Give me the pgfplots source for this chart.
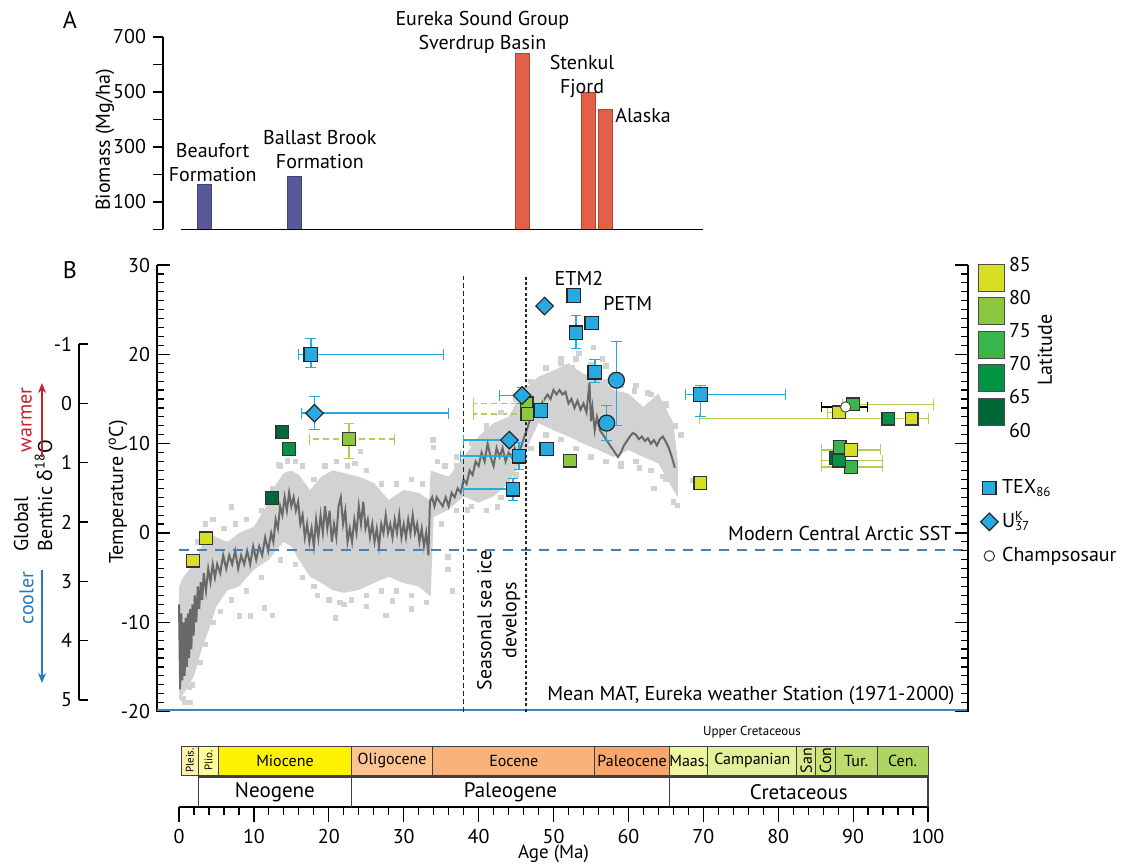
\documentclass[border=0pt]{standalone}
\usepackage{pgfplots}
\pgfplotsset{compat=1.18}
\usepackage{fontspec}
\setmainfont{PT Sans}
\newfontfamily\grk{Noto Sans}
\usetikzlibrary{arrows.meta}
\definecolor{texblue}{RGB}{39,170,225}
\definecolor{latA}{RGB}{215,223,35}
\definecolor{latB}{RGB}{141,198,63}
\definecolor{latC}{RGB}{57,181,74}
\definecolor{latD}{RGB}{0,148,68}
\definecolor{latE}{RGB}{0,104,56}
\definecolor{barblue}{RGB}{88,89,155}
\definecolor{barred}{RGB}{226,95,72}
\definecolor{scat}{RGB}{210,210,210}
\definecolor{curvegray}{RGB}{105,105,105}
\definecolor{sstblue}{RGB}{70,130,180}
\definecolor{errgreen}{RGB}{175,208,85}
\definecolor{warmred}{RGB}{200,30,45}
\definecolor{coolblue}{RGB}{40,120,190}
\definecolor{cPleis}{HTML}{FFF2AE}
\definecolor{cPlio}{HTML}{FFFF99}
\definecolor{cMio}{HTML}{FFF200}
\definecolor{cOlig}{HTML}{FDC48F}
\definecolor{cEoc}{HTML}{FBB27A}
\definecolor{cPaleoc}{HTML}{F9A66C}
\definecolor{cMaas}{HTML}{F0F6A0}
\definecolor{cCamp}{HTML}{E3F09A}
\definecolor{cSan}{HTML}{D8EA8A}
\definecolor{cCon}{HTML}{CBE47A}
\definecolor{cTur}{HTML}{BDDC6C}
\definecolor{cCen}{HTML}{AED461}
\newcommand{\fsa}{\fontsize{10}{12}\selectfont}
\newcommand{\fsb}{\fontsize{8}{9.5}\selectfont}
\newcommand{\scr}{\fontsize{6.5}{7}\selectfont}
\pgfplotsset{
  common/.style={scale only axis, anchor=south west, clip=false,
    /pgf/number format/assume math mode=true,
    tick label style={font=\fsa},
    tick style={black, line width=0.6pt},
    axis line style={black, line width=0.7pt}},
  latsq/.style={only marks, mark=square*, mark size=3.2pt, mark options={fill=#1, draw=black!80, line width=0.6pt}},
}
\begin{document}
\begin{tikzpicture}
\useasboundingbox (0,0) rectangle (564pt,431.5pt);

% ---------------- Panel A ----------------
\begin{axis}[common, at={(81.5pt,316.75pt)}, width=270.2pt, height=96.25pt,
  xmin=-2.14, xmax=70, ymin=0, ymax=700,
  axis x line=none, axis y line*=left,
  ytick={100,300,500,700}, minor ytick={0,200,400,600},
  tick align=outside, major tick length=5pt, minor tick length=5pt]
\addplot[ybar, bar width=7pt, bar shift=0pt, fill=barblue, draw=barblue!75!black, line width=0.4pt] coordinates {(3.35,164) (15.35,193)};
\addplot[ybar, bar width=7pt, bar shift=0pt, fill=barred, draw=barred!75!black, line width=0.4pt] coordinates {(45.8,639) (54.6,497) (56.9,436)};
\addplot[black, line width=0.8pt] coordinates {(0.3,0) (70,0)};
\node[align=center, font=\fsa, inner sep=0pt] at (axis cs:4.5,245) {Beaufort\\Formation};
\node[align=center, font=\fsa, inner sep=0pt] at (axis cs:18.8,290) {Ballast Brook\\Formation};
\node[align=center, font=\fsa, inner sep=0pt] at (axis cs:40.5,715) {Eureka Sound Group\\Sverdrup Basin};
\node[align=center, font=\fsa, inner sep=0pt] at (axis cs:53.8,555) {Stenkul\\Fjord};
\node[anchor=west, font=\fsa, inner sep=0pt] at (axis cs:58.2,413) {Alaska};
\end{axis}

% ---------------- delta18O axis ----------------
\begin{axis}[common, at={(39.5pt,81.5pt)}, width=20pt, height=178pt,
  xmin=0, xmax=1, ymin=-1, ymax=5, y dir=reverse,
  axis x line=none, axis y line*=left,
  ytick={-1,0,...,5}, tick align=inside, major tick length=4.5pt]
\addplot[draw=none] coordinates {(0,0)};
\end{axis}

% ---------------- Panel B ----------------
\begin{axis}[common, at={(78.5pt,75.7pt)}, width=405.5pt, height=223.3pt,
  xmin=-2.94, xmax=105.34, ymin=-20, ymax=30,
  axis x line=none, axis y line*=left,
  ytick={-20,-10,...,30}, minor y tick num=9,
  tick align=inside, major tick length=6.5pt, minor tick length=3.5pt,
  legend cell align=left,
  legend style={at={(rel axis cs:1.015,0.53)}, anchor=north west, draw=none, fill=none,
    font=\fsa, row sep=4.5pt, inner sep=0pt}]
% light grey scatter band
\addplot[fill=scat, draw=none, forget plot] coordinates {
(0,-6) (0.5,-5) (1,-4.5) (2,-3.5) (3,-1.5) (4,0) (5,-0.5) (6.5,-1) (8,0) (10,0.7)
(12,3.5) (13,5.5) (14,6.7) (15,7) (16,6.5) (17.5,4.8) (19,6.3) (20.5,7) (22,6.7)
(24,6.3) (26,5.6) (28,3.7) (30,4.8) (32,4.5) (33.4,3.7) (33.6,7) (36,6.3) (38,8.5)
(40,10.8) (42,12.3) (44,13) (46,16) (48,17.5) (50,18.2) (52,19) (54,17.8) (56,17.5)
(58,16) (60,15.6) (62,14.1) (64,15.6) (66,12.3) (66.6,8)
(66.6,4) (66,4.8) (64,7.8) (62,8.5) (60,9.3) (58,8.5) (56,9.3) (54,10) (52,10.8)
(50,11.5) (48,12.3) (47,10.5) (46,8.5) (44,5.6) (42,4.1) (40,3.4) (38,4.1) (36,2.6)
(34,1.8) (33.6,-7.1) (32,-6) (30,-5.6) (28,-4.9) (26,-5.6) (24,-6.4) (22,-6.7)
(20.5,-6.4) (19,-5.6) (17.5,-4.9) (16,-3) (15,-1.5) (14,-1) (13,-1.9) (12,-3)
(10,-4.1) (8,-6) (6.5,-6.4) (5,-8.2) (4,-10.8) (3,-13.1) (2,-16) (1,-17.5) (0,-18.7)};
\addplot[only marks, mark=square*, mark size=1.1pt, color=scat, forget plot] coordinates {
(1.5,-19) (0.5,-18.5) (1.4,-17.3) (8.1,-9.3) (9.5,-9.3) (12.5,-9.2) (20.9,-9.5)
(27.6,-9.2) (11.4,-8.4) (7,2.9) (24.2,9.1) (14.5,8.1) (13.3,7.6) (33.9,10.4)
(34.0,9.6) (35.9,-2.7) (35.9,-4.1) (36.5,-6.5) (18.5,-7) (22,-8) (25,-8.2) (31,-8.5)
(28.5,-7.6) (66.5,3.1) (63.4,5.0) (68.6,5.9) (66.2,5.9) (60.8,15.9) (49.8,17.1)
(55.3,20.8) (53.4,20.1) (51,19.5) (57,18.7) (62.6,15.7) (65,14.3) (67,11) (61.5,7.3)
(59,7.8) (64.5,6.3) (47.5,16.5) (45,13.8) (43.5,12) (41,11.5) (39.5,9.8) (37,7.5)
(38.5,2.6) (42.5,2.9) (44.8,4.5) (56.5,19.5) (52.5,18.5)
(2.5,-1) (3.5,1) (4.5,1.5) (6,0.5) (7.5,1) (9,1.5) (11,2.5) (12.5,5) (13.5,7.5)
(14.5,8) (15.5,8) (16.5,7.5) (18,6) (19.5,7.5) (21,8) (22.5,7.5) (23.5,7.8) (25,7)
(27,5.5) (29,5.5) (31,6) (32.5,5.5) (34.5,8) (35.5,7.5) (37,8.5) (39,10) (41,12)
(43,13.5) (45,15) (47,17) (49,18.5) (51,19) (53,19.5) (55,18.8) (57,17) (59,16.5)
(61,16.5) (63,15.5) (65,14.5) (66.3,12)
(0.8,-19) (1.8,-17) (2.8,-14.5) (3.5,-12.5) (4.5,-10) (5.5,-8.8) (7,-7.5) (9,-6.5)
(11,-5) (13.5,-3) (15.5,-3.5) (16.5,-5) (18,-6) (20,-7.5) (21.5,-7.8) (23,-7.5)
(25,-7) (27,-6.5) (29,-6.5) (31,-7) (33,-7.8) (35,1) (37,2.5) (39,3) (41,2.5)
(43,4) (45,6.5) (47,9.5) (49,11) (51,10.5) (53,9.5) (55,8.5) (57,8) (59,7.5) (61,8)
(63,7) (65,6) (66,3.5)};
% dark running curve
\addplot[curvegray, line width=1pt, forget plot] coordinates {
(0.0,-8) (0.15,-17.5) (0.3,-9) (0.45,-16.5) (0.6,-10) (0.75,-16) (0.9,-9.5) (1.05,-15)
(1.2,-9) (1.35,-14) (1.5,-8.5) (1.65,-13) (1.8,-8) (1.95,-11.5) (2.1,-7) (2.3,-10)
(2.5,-6) (2.7,-8.5) (2.9,-5.5) (3.1,-7.5) (3.3,-4.5) (3.6,-6.5) (3.9,-4) (4.2,-5.5)
(4.5,-3.5) (4.8,-5) (5.1,-3.5) (5.5,-4.5) (5.9,-2.5) (6.3,-4) (6.7,-2.5) (7.1,-3.5)
(7.5,-2) (7.9,-4) (8.3,-2.5) (8.7,-3.5) (9.1,-2) (9.5,-3.5) (9.9,-1.5) (10.3,-3)
(10.7,-1.5) (11.1,-2.5) (11.5,-0.5) (11.9,-2) (12.3,0) (12.6,-1) (12.9,1.5) (13.2,0.5)
(13.5,3) (13.8,2) (14.1,4) (14.4,2.5) (14.7,4.5) (15.0,3) (15.3,4) (15.6,2.5) (15.9,3.5)
(16.2,1) (16.5,2) (16.8,-0.5) (17.1,1) (17.4,-1) (17.7,0.5) (18.0,-1.5) (18.3,1.5)
(18.6,-0.5) (18.9,2) (19.2,0) (19.5,3) (19.8,0.5) (20.1,2.5) (20.4,-1) (20.7,1)
(21.0,-0.5) (21.3,3) (21.6,4) (21.9,1) (22.2,2.5) (22.5,-1) (22.8,0.5) (23.1,-1)
(23.4,1.5) (23.7,0) (24.0,3) (24.3,1) (24.6,3.5) (24.9,0.5) (25.2,1.5) (25.5,-0.5)
(25.8,1) (26.1,-1) (26.4,0.5) (26.7,-1.5) (27.0,1) (27.3,0) (27.6,2) (27.9,0) (28.2,1)
(28.5,-0.5) (28.8,1.5) (29.1,0) (29.4,2) (29.7,-0.5) (30.0,1) (30.3,-0.5) (30.6,1.5)
(30.9,0) (31.2,2) (31.5,0) (31.8,1) (32.1,-1) (32.4,0.5) (32.7,-1.5) (33.0,0)
(33.3,-2.5) (33.5,3.5) (33.8,4) (34.1,3) (34.4,4) (34.8,3.5) (35.2,3) (35.6,4) (36.0,3)
(36.4,4.5) (36.8,4) (37.2,5) (37.6,4.5) (38.0,6) (38.4,5.5) (38.8,7) (39.2,6.5) (39.6,8)
(40.0,7.5) (40.4,9) (40.8,8) (41.2,10) (41.6,8.5) (42.0,7.5) (42.4,9.5) (42.8,8.5)
(43.2,9.5) (43.6,8) (44.0,9) (44.4,8.5) (44.8,9.5) (45.2,8.5) (45.6,9.5) (46.0,10.5)
(46.4,11.5) (46.8,12.5) (47.2,13) (47.6,13.5) (48.0,14) (48.4,14.5) (48.8,15) (49.2,15.5)
(49.6,15) (50.0,16) (50.4,15.5) (50.8,16) (51.2,15.5) (51.6,15.8) (52.0,14.5) (52.4,15)
(52.8,14) (53.2,14.8) (53.6,13.8) (54.0,14.5) (54.4,13.5) (54.8,16.8) (55.0,12.5)
(55.2,14) (55.5,11.5) (55.8,13) (56.2,11.5) (56.6,11) (57.0,10.5) (57.4,10) (57.8,9.5)
(58.2,9) (58.6,8.5) (59.0,9) (59.4,9.8) (59.8,10.3) (60.2,10.8) (60.6,11.2) (61.0,11)
(61.4,10.5) (61.8,10.8) (62.2,10.3) (62.6,10.6) (63.0,10) (63.4,10.4) (63.8,9.8)
(64.2,10.5) (64.6,10.8) (65.0,10.2) (65.4,9.5) (65.8,8.5) (66.2,7.3)};
% reference lines
\addplot[sstblue, dash pattern=on 5pt off 4pt, line width=0.7pt, forget plot] coordinates {(0,-1.9) (105.34,-1.9)};
\addplot[sstblue, line width=0.7pt, forget plot] coordinates {(-2.94,-19.8) (105.34,-19.8)};
\addplot[black!85, dash pattern=on 2.5pt off 1.5pt, line width=0.8pt, forget plot] coordinates {(38,-20) (38,28.8)};
\addplot[black!85, dash pattern=on 1.5pt off 1.2pt, line width=1pt, forget plot] coordinates {(46.3,-20) (46.3,28.8)};
% right-hand spine with inward ticks
\addplot[black, line width=0.7pt, forget plot] coordinates {(105.34,-20) (105.34,30)};
\addplot[only marks, mark=-, mark size=3.25pt, mark options={black, line width=0.6pt}, forget plot] coordinates {
(104.47,-20) (104.47,-10) (104.47,0) (104.47,10) (104.47,20) (104.47,30)};
\addplot[only marks, mark=-, mark size=1.75pt, mark options={black, line width=0.6pt}, forget plot] coordinates {
(104.87,-19) (104.87,-18) (104.87,-17) (104.87,-16) (104.87,-15) (104.87,-14) (104.87,-13) (104.87,-12) (104.87,-11)
(104.87,-9) (104.87,-8) (104.87,-7) (104.87,-6) (104.87,-5) (104.87,-4) (104.87,-3) (104.87,-2) (104.87,-1)
(104.87,1) (104.87,2) (104.87,3) (104.87,4) (104.87,5) (104.87,6) (104.87,7) (104.87,8) (104.87,9)
(104.87,11) (104.87,12) (104.87,13) (104.87,14) (104.87,15) (104.87,16) (104.87,17) (104.87,18) (104.87,19)
(104.87,21) (104.87,22) (104.87,23) (104.87,24) (104.87,25) (104.87,26) (104.87,27) (104.87,28) (104.87,29)};
% latitude error bars
\addplot[only marks, mark=none, forget plot, error bars/.cd, x dir=both, x explicit,
  error bar style={draw=errgreen, line width=0.7pt},
  error mark options={rotate=90, mark size=2.7pt, draw=errgreen}] coordinates {
(97.8,12.8) += (2.2,0) -= (28.3,0)
(88.1,13.5) += (0,0) -= (1.6,0)
(89.7,9.3) += (3.9,0) -= (3.9,0)
(90.0,14.4) += (10.7,0) -= (1.4,0)
(89.7,7.4) += (4.2,0) -= (3.9,0)
(88.1,8.1) += (5.8,0) -= (2.3,0)};
\addplot[only marks, mark=none, forget plot, error bars/.cd, x dir=both, x explicit,
  error bar style={draw=errgreen, line width=0.7pt, dash pattern=on 3pt off 2pt},
  error mark options={rotate=90, mark size=2.7pt, draw=errgreen, solid}] coordinates {
(22.7,10.5) += (6.0,0) -= (5.3,0)
(46.4,14.5) += (2.2,0) -= (7.1,0)
(46.5,13.3) += (2.1,0) -= (7.2,0)};
\addplot[only marks, mark=none, forget plot, error bars/.cd, y dir=both, y explicit,
  error bar style={draw=errgreen, line width=0.7pt},
  error mark options={rotate=90, mark size=2.7pt, draw=errgreen}] coordinates {
(22.7,10.5) += (0,1.8) -= (0,2.2)};
% blue error bars
\addplot[only marks, mark=none, forget plot, error bars/.cd, x dir=both, x explicit, y dir=both, y explicit,
  error bar style={draw=texblue, line width=0.8pt},
  error mark options={rotate=90, mark size=2.7pt, draw=texblue}] coordinates {
(17.6,20.0) += (17.7,1.8) -= (1.6,1.5)
(44.6,4.9) += (0,1.2) -= (6.6,1.2)
(69.6,15.5) += (11.3,1.0) -= (2.0,2.4)
(18.1,13.4) += (17.9,1.9) -= (1.8,1.8)};
\addplot[only marks, mark=none, forget plot, error bars/.cd, x dir=minus, x explicit,
  error bar style={draw=texblue, line width=0.8pt},
  error mark options={rotate=90, mark size=2.7pt, draw=texblue}] coordinates {
(45.4,8.6) -= (7.8,0)
(45.8,15.4) -= (3.0,0)
(44.1,10.4) -= (6.1,0)};
\addplot[only marks, mark=none, forget plot, error bars/.cd, y dir=both, y explicit,
  error bar style={draw=texblue, line width=0.8pt},
  error mark options={rotate=90, mark size=2.7pt, draw=texblue}] coordinates {
(53.0,22.4) += (0,2.0) -= (0,1.7)
(55.5,18.0) += (0,1.4) -= (0,1.1)
(58.4,17.1) += (0,4.4) -= (0,5.1)
(57.1,12.3) += (0,2.0) -= (0,1.9)
(45.4,8.6) += (0,1.5) -= (0,1.5)
(45.8,15.4) += (0,0.9) -= (0,0.9)};
\addplot[only marks, mark=none, forget plot, error bars/.cd, x dir=both, x explicit,
  error bar style={draw=black, line width=0.8pt},
  error mark options={rotate=90, mark size=2.7pt, draw=black}] coordinates {
(89.0,14.1) += (2.9,0) -= (3.2,0)};
% latitude squares
\addplot[latsq=latE, forget plot] coordinates {(13.8,11.3) (12.4,3.9) (87.7,8.4)};
\addplot[latsq=latC, forget plot] coordinates {(88.2,9.6) (89.7,7.4)};
\addplot[latsq=latD, forget plot] coordinates {(14.7,9.4) (94.7,12.8) (88.1,8.1)};
\addplot[latsq=latA, forget plot] coordinates {(1.9,-3.1) (3.6,-0.6) (69.6,5.6) (97.8,12.8) (88.1,13.5) (89.7,9.3)};
\addplot[latsq=latC, forget plot] coordinates {(90.0,14.4)};
\addplot[latsq=latB, forget plot] coordinates {(22.7,10.5) (46.4,14.5) (46.5,13.3) (52.2,8.1)};
% TEX86 squares, UK37 diamonds, circles
\addplot[only marks, mark=square*, mark size=3.4pt, mark options={fill=texblue, draw=black!85, line width=0.6pt}, forget plot] coordinates {
(52.7,26.6) (55.1,23.5) (53.0,22.4) (55.5,18.0) (48.3,13.7) (49.1,9.4) (17.6,20.0)
(45.4,8.6) (44.6,4.9) (69.6,15.5)};
\addplot[only marks, mark=square*, mark size=3.1pt, mark options={rotate=45, fill=texblue, draw=black!85, line width=0.6pt}, forget plot] coordinates {
(48.8,25.4) (18.1,13.4) (45.8,15.4) (44.1,10.4)};
\addplot[only marks, mark=*, mark size=4pt, mark options={fill=texblue, draw=black!85, line width=0.6pt}, forget plot] coordinates {
(58.4,17.1) (57.1,12.3)};
\addplot[only marks, mark=*, mark size=2.6pt, mark options={fill=white, draw=black!70, line width=0.5pt}, forget plot] coordinates {(89.0,14.1)};
% legend
\addlegendimage{only marks, mark=square*, mark size=3.3pt, mark options={fill=texblue, draw=black!85, line width=0.6pt}}
\addlegendentry{TEX\smash{\raisebox{-0.35ex}{\scr 86}}}
\addlegendimage{only marks, mark=square*, mark size=3.1pt, mark options={rotate=45, fill=texblue, draw=black!85, line width=0.6pt}}
\addlegendentry{U\rlap{\smash{\raisebox{0.7ex}{\scr K}}}\smash{\raisebox{-0.35ex}{\scr 37}}}
\addlegendimage{only marks, mark=*, mark size=2.6pt, mark options={fill=white, draw=black!80, line width=0.5pt}}
\addlegendentry{Champsosaur}
% texts
\node[font=\fsa] at (axis cs:53.4,28.5) {ETM2};
\node[font=\fsa] at (axis cs:59.9,25.7) {PETM};
\node[font=\fsa, anchor=east, inner sep=0pt] at (axis cs:103.2,-0.1) {Modern Central Arctic SST};
\node[font=\fsa, anchor=east, inner sep=0pt] at (axis cs:103.6,-18.2) {Mean MAT, Eureka weather Station (1971-2000)};
\node[font=\fontsize{10}{12.5}\selectfont, rotate=90, align=center] at (axis cs:42.7,-9.8) {Seasonal sea ice\\develops};
\end{axis}

% ---------------- latitude colour key ----------------
\begin{axis}[common, at={(489pt,216.5pt)}, width=13pt, height=82.5pt,
  xmin=0, xmax=1, ymin=60, ymax=85,
  axis line style={draw=none}, xtick=\empty,
  ytick={60,65,...,85}, ytick pos=right, yticklabel pos=right, major tick length=0pt,
  yticklabel style={xshift=-1pt}]
\addplot[fill=latE, draw=black!70, line width=0.5pt] coordinates {(0,60.7) (1,60.7) (1,64.8) (0,64.8) (0,60.7)};
\addplot[fill=latD, draw=black!70, line width=0.5pt] coordinates {(0,65.8) (1,65.8) (1,69.9) (0,69.9) (0,65.8)};
\addplot[fill=latC, draw=black!70, line width=0.5pt] coordinates {(0,70.9) (1,70.9) (1,74.9) (0,74.9) (0,70.9)};
\addplot[fill=latB, draw=black!70, line width=0.5pt] coordinates {(0,76.0) (1,76.0) (1,80.0) (0,80.0) (0,76.0)};
\addplot[fill=latA, draw=black!70, line width=0.5pt] coordinates {(0,81.0) (1,81.0) (1,85.1) (0,85.1) (0,81.0)};
\end{axis}

% ---------------- time scale ----------------
\begin{axis}[common, at={(89.5pt,28pt)}, width=374.5pt, height=30.5pt,
  xmin=0, xmax=100, ymin=0, ymax=30.5,
  axis x line*=bottom, axis y line=none,
  xtick={0,10,...,100}, minor x tick num=4, tick align=outside, xtick pos=bottom,
  major tick length=7.5pt, minor tick length=4pt,
  xlabel={Age (Ma)}, xlabel style={font=\fontsize{9.5}{11}\selectfont, yshift=6pt}]
\addplot[fill=cPleis, draw=black!75, line width=0.5pt] coordinates {(0.3,16) (2.6,16) (2.6,30.5) (0.3,30.5) (0.3,16)};
\addplot[fill=cPlio, draw=black!75, line width=0.5pt] coordinates {(2.6,16) (5.3,16) (5.3,30.5) (2.6,30.5) (2.6,16)};
\addplot[fill=cMio, draw=black!75, line width=0.5pt] coordinates {(5.3,16) (23,16) (23,30.5) (5.3,30.5) (5.3,16)};
\addplot[fill=cOlig, draw=black!75, line width=0.5pt] coordinates {(23,16) (33.9,16) (33.9,30.5) (23,30.5) (23,16)};
\addplot[fill=cEoc, draw=black!75, line width=0.5pt] coordinates {(33.9,16) (55.5,16) (55.5,30.5) (33.9,30.5) (33.9,16)};
\addplot[fill=cPaleoc, draw=black!75, line width=0.5pt] coordinates {(55.5,16) (65.5,16) (65.5,30.5) (55.5,30.5) (55.5,16)};
\addplot[fill=cMaas, draw=black!75, line width=0.5pt] coordinates {(65.5,16) (70.6,16) (70.6,30.5) (65.5,30.5) (65.5,16)};
\addplot[fill=cCamp, draw=black!75, line width=0.5pt] coordinates {(70.6,16) (82.5,16) (82.5,30.5) (70.6,30.5) (70.6,16)};
\addplot[fill=cSan, draw=black!75, line width=0.5pt] coordinates {(82.5,16) (85,16) (85,30.5) (82.5,30.5) (82.5,16)};
\addplot[fill=cCon, draw=black!75, line width=0.5pt] coordinates {(85,16) (87.6,16) (87.6,30.5) (85,30.5) (85,16)};
\addplot[fill=cTur, draw=black!75, line width=0.5pt] coordinates {(87.6,16) (93.2,16) (93.2,30.5) (87.6,30.5) (87.6,16)};
\addplot[fill=cCen, draw=black!75, line width=0.5pt] coordinates {(93.2,16) (100,16) (100,30.5) (93.2,30.5) (93.2,16)};
\addplot[draw=black!75, line width=0.6pt] coordinates {(2.6,0) (2.6,15) (100,15) (100,0)};
\addplot[draw=black!75, line width=0.6pt] coordinates {(23,0) (23,15)};
\addplot[draw=black!75, line width=0.6pt] coordinates {(65.5,0) (65.5,15)};
\node[rotate=90, font=\fontsize{5.5}{6}\selectfont, inner sep=0pt] at (axis cs:1.45,23.25) {Pleis.};
\node[rotate=90, font=\fontsize{5.5}{6}\selectfont, inner sep=0pt] at (axis cs:3.95,23.25) {Plio.};
\node[font=\fsb] at (axis cs:14.15,23.25) {Miocene};
\node[font=\fsb] at (axis cs:28.45,23.25) {Oligocene};
\node[font=\fsb] at (axis cs:44.7,23.25) {Eocene};
\node[font=\fsb] at (axis cs:60.5,23.25) {Paleocene};
\node[font=\fsb] at (axis cs:68.05,23.25) {Maas.};
\node[font=\fsb] at (axis cs:76.55,23.25) {Campanian};
\node[rotate=90, font=\fsb, inner sep=0pt] at (axis cs:83.75,23.25) {San};
\node[rotate=90, font=\fsb, inner sep=0pt] at (axis cs:86.3,23.25) {Con};
\node[font=\fsb] at (axis cs:90.4,23.25) {Tur.};
\node[font=\fsb] at (axis cs:96.6,23.25) {Cen.};
\node[font=\fontsize{10.5}{12}\selectfont] at (axis cs:12.8,7.5) {Neogene};
\node[font=\fontsize{10.5}{12}\selectfont] at (axis cs:44.25,7.5) {Paleogene};
\node[font=\fontsize{10.5}{12}\selectfont] at (axis cs:82.75,7.5) {Cretaceous};
\node[font=\fontsize{6.5}{7}\selectfont] at (axis cs:76.5,37.5) {Upper Cretaceous};
\end{axis}

% ---------------- free labels ----------------
\node[font=\fontsize{12}{14}\selectfont] at (35pt,421.5pt) {A};
\node[font=\fontsize{12}{14}\selectfont] at (35pt,296.5pt) {B};
\node[font=\fsa, rotate=90] at (52.5pt,361.5pt) {Biomass (Mg/ha)};
\node[font=\fsa, rotate=90] at (59pt,185.5pt) {Temperature (\textsuperscript{o}C)};
\node[font=\fsa, rotate=90, anchor=west, align=left, inner sep=0pt] at (16.5pt,155.5pt) {Global\\Benthic {\grk δ}\textsuperscript{18}O};
\node[font=\fsa, rotate=90, text=warmred] at (13.3pt,221.5pt) {warmer};
\node[font=\fsa, rotate=90, text=coolblue] at (13.3pt,132.5pt) {cooler};
\draw[warmred, line width=0.8pt, -{Stealth[length=5pt,width=4pt]}] (21pt,203pt) -- (21pt,240pt);
\draw[coolblue, line width=0.8pt, -{Stealth[length=5pt,width=4pt]}] (21pt,146.5pt) -- (21pt,90pt);
\node[font=\fsa, rotate=90] at (522.5pt,256.5pt) {Latitude};
\end{tikzpicture}
\end{document}
